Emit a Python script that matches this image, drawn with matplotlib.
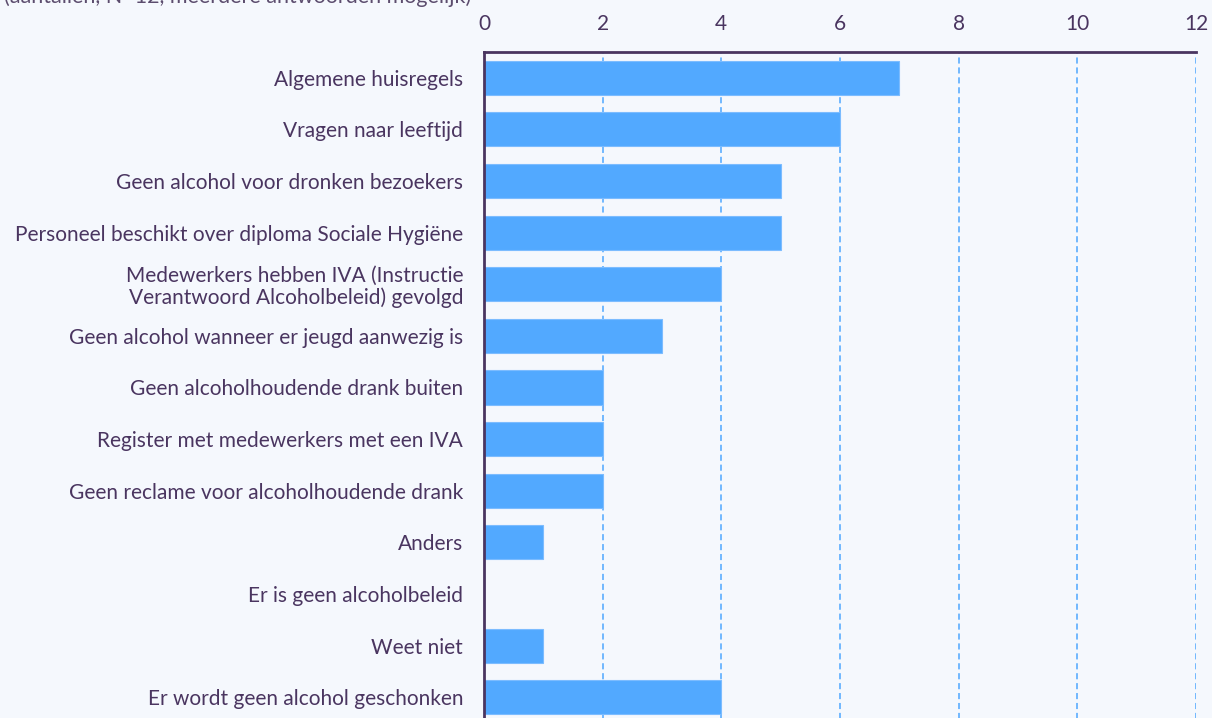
import matplotlib.pyplot as plt
import numpy as np

# Answers and counts (N=12, multiple answers possible)
categories = [
    'Algemene huisregels',
    'Vragen naar leeftijd',
    'Geen alcohol voor dronken bezoekers',
    'Personeel beschikt over diploma Sociale Hygiëne',
    'Medewerkers hebben IVA (Instructie\nVerantwoord Alcoholbeleid) gevolgd',
    'Geen alcohol wanneer er jeugd aanwezig is',
    'Geen alcoholhoudende drank buiten',
    'Register met medewerkers met een IVA',
    'Geen reclame voor alcoholhoudende drank',
    'Anders',
    'Er is geen alcoholbeleid',
    'Weet niet',
    'Er wordt geen alcohol geschonken',
]
counts = [7, 6, 5, 5, 4, 3, 2, 2, 2, 1, 0, 1, 4]
xticks = [0, 2, 4, 6, 8, 10, 12]

bg = '#f5f8fd'
txt = '#4a3560'
blue = '#52a9ff'

plt.rcParams['font.family'] = ['Lato', 'DejaVu Sans']

fig = plt.figure(figsize=(12.12, 7.18), dpi=100, facecolor=bg)
ax = fig.add_axes([0.3993, -0.0069, 0.5875, 0.9345], facecolor=bg)

y = np.arange(len(categories))
ax.barh(y, counts, height=0.66, color=blue, edgecolor='#7cbcff', linewidth=0.8, zorder=2)

ax.set_xlim(0, 12)
ax.set_ylim(len(categories) - 0.5, -0.5)
ax.set_xticks(xticks)
ax.xaxis.tick_top()
ax.tick_params(axis='x', length=0, pad=13, labelsize=15, labelcolor=txt)
ax.set_yticks(y)
ax.set_yticklabels(categories, fontsize=15, color=txt)
ax.tick_params(axis='y', length=0, pad=15)
for lbl in ax.get_yticklabels():
    lbl.set_linespacing(1.1)

ax.grid(axis='x', color='#4da6ff', linestyle=(0, (4, 2.5)), linewidth=1.1, zorder=1)
for side in ['right', 'bottom']:
    ax.spines[side].set_visible(False)
for side in ['top', 'left']:
    ax.spines[side].set_color(txt)
    ax.spines[side].set_linewidth(2)
    ax.spines[side].set_zorder(3)

fig.text(0.003, 1 - 3 / 718, '(aantallen, N=12, meerdere antwoorden mogelijk)',
         fontsize=15.5, color='#5c4d6e', ha='left', va='baseline')

fig.savefig('out.png', dpi=100, facecolor=bg)
